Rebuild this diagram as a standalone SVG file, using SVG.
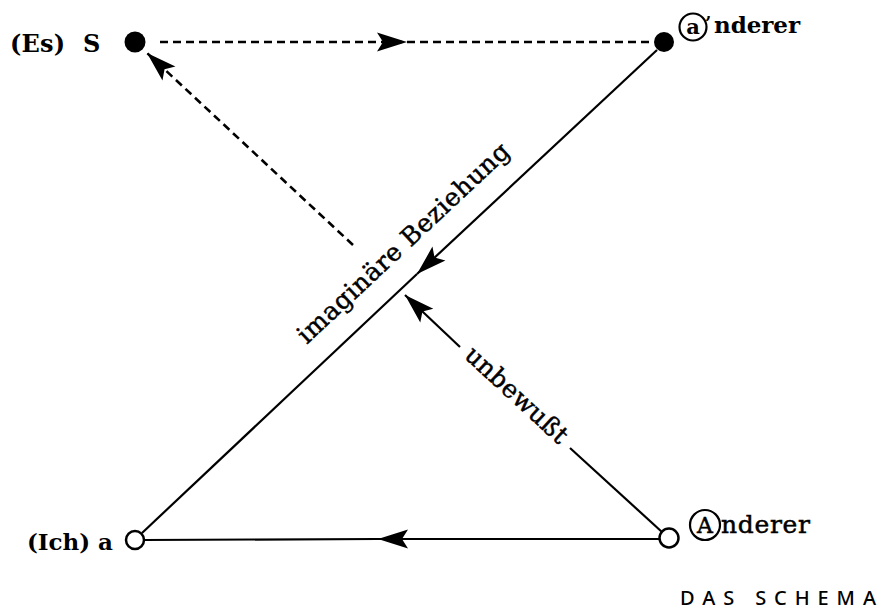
<svg xmlns="http://www.w3.org/2000/svg" width="879" height="612" viewBox="0 0 879 612">
<style>
.ln{fill:none;stroke:#000;stroke-width:2.2}
.ds{fill:none;stroke:#000;stroke-width:2.6;stroke-dasharray:8 5}
.lbl{font-family:"DejaVu Serif","Liberation Serif",serif;fill:#000}
.b{font-weight:bold}
.thick{stroke:#000;stroke-width:0.5}
.filled{fill:#000}
.open{fill:#fff;stroke:#000;stroke-width:2.5}
.ring{fill:none;stroke:#000;stroke-width:2.2}
</style>
<defs>
<marker id="ah" markerUnits="userSpaceOnUse" viewBox="-32 -11 34 22" refX="0" refY="0" markerWidth="34" markerHeight="22" orient="auto">
<path d="M0,0 L-30,-9.5 L-24,0 L-30,9.5 Z" fill="#000"/>
</marker>
</defs>
<rect width="879" height="612" fill="#fff"/>
<g id="connectors">
<path class="ds" d="M160,42 L407,42" marker-end="url(#ah)"/>
<path class="ds" d="M407,42 L653,42"/>
<path class="ln" d="M657,50 L417,274" marker-end="url(#ah)"/>
<path class="ln" d="M417,274 L142,533"/>
<path class="ln" d="M660,539 L378,539" marker-end="url(#ah)"/>
<path class="ln" d="M378,539 L144,540"/>
<path class="ds" d="M353,245 L147,53" marker-end="url(#ah)"/>
<path class="ln" d="M662,532 L570,448"/>
<path class="ln" d="M460,347 L405,295" marker-end="url(#ah)"/>
</g>
<g id="node-S">
<circle class="filled" cx="135" cy="42" r="10.5"/>
<text class="lbl b" x="10" y="52" font-size="24" textLength="55">(Es)</text>
<text class="lbl b" x="83" y="52" font-size="24">S</text>
</g>
<g id="node-a-prime">
<circle class="filled" cx="664" cy="42" r="10"/>
<circle class="ring" cx="693" cy="27" r="13.5"/>
<text class="lbl b" x="693" y="34" font-size="21" text-anchor="middle">a</text>
<text class="lbl b" x="705" y="30" font-size="18">’</text>
<text class="lbl b" x="714" y="33" font-size="23" textLength="86">nderer</text>
</g>
<g id="node-a">
<circle class="open" cx="135" cy="540" r="9"/>
<text class="lbl b" x="27" y="550" font-size="23" textLength="86">(Ich) a</text>
</g>
<g id="node-A">
<circle class="open" cx="669" cy="538" r="9.5"/>
<circle class="ring" cx="705" cy="525" r="15"/>
<text class="lbl thick" x="705" y="533" font-size="22" text-anchor="middle">A</text>
<text class="lbl thick" x="721" y="533" font-size="25" textLength="89">nderer</text>
</g>
<g id="labels">
<text class="lbl thick" font-size="25" text-anchor="middle" textLength="280" transform="translate(409,249) rotate(-43.1)">imaginäre Beziehung</text>
<text class="lbl thick" font-size="25" text-anchor="middle" textLength="130" transform="translate(511,401) rotate(42.6)">unbewußt</text>
<text x="680" y="605" font-family="'Noto Sans','DejaVu Sans',sans-serif" font-size="20" font-weight="500" textLength="196">DAS SCHEMA</text>
</g>
</svg>
